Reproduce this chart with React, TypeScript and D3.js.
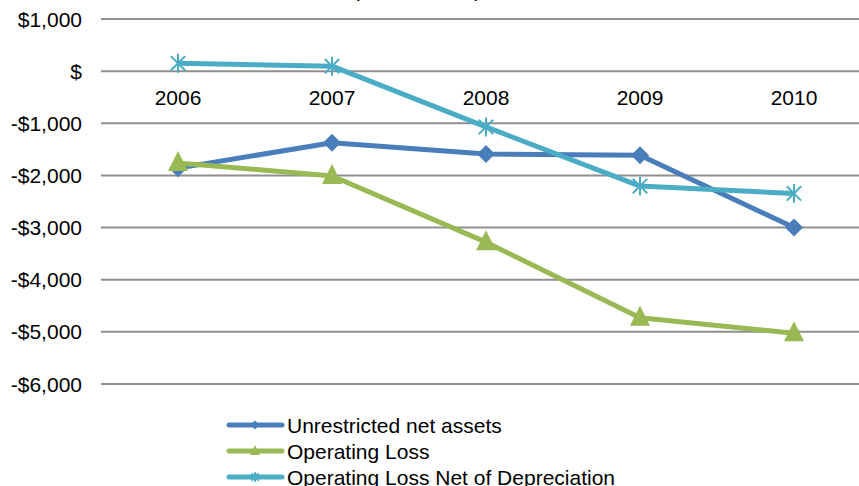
import React from "react";
import * as d3 from "d3";

const years = ["2006", "2007", "2008", "2009", "2010"];
const unrestricted = [-1860, -1375, -1590, -1615, -3000];
const operatingLoss = [-1760, -2010, -3280, -4730, -5025];
const netOfDep = [150, 95, -1070, -2205, -2345];
const yTicks = [1000, 0, -1000, -2000, -3000, -4000, -5000, -6000];
const seriesNames = ["Unrestricted net assets", "Operating Loss", "Operating Loss Net of Depreciation"];
const colors = ["#4A7EBB", "#98B954", "#4BACC6"];

const W = 859, H = 486;
const FONT = "'Liberation Sans', Arial, sans-serif";
const FS = 21;

function fmt(v: number) {
  if (v === 0) return "$";
  const s = d3.format(",")(Math.abs(v));
  return (v < 0 ? "-$" : "$") + s;
}

function Marker({ type, x, y, color, s = 1 }: { type: number; x: number; y: number; color: string; s?: number }) {
  if (type === 0) {
    const r = 9 * s;
    return <path d={`M${x},${y - r}L${x + r},${y}L${x},${y + r}L${x - r},${y}Z`} fill={color} />;
  }
  if (type === 1) {
    const w = 10 * s, h = 20 * s;
    return <path d={`M${x},${y - h * 0.6}L${x + w},${y + h * 0.4}L${x - w},${y + h * 0.4}Z`} fill={color} />;
  }
  const r = 9 * s;
  const d = r * 0.8;
  return (
    <path
      d={`M${x - d},${y - d}L${x + d},${y + d}M${x - d},${y + d}L${x + d},${y - d}M${x},${y - r * 1.05}L${x},${y + r * 1.05}`}
      stroke={color}
      strokeWidth={2}
      fill="none"
    />
  );
}

export default function App() {
  const x = d3.scaleBand<string>().domain(years).range([101, 871]).padding(0);
  const y = d3.scaleLinear().domain([-6000, 1000]).range([384, 19]);
  const cx = (yr: string) => (x(yr) as number) + x.bandwidth() / 2;
  const all = [unrestricted, operatingLoss, netOfDep];
  const line = d3
    .line<number>()
    .x((_, i) => cx(years[i]))
    .y((v) => y(v));

  return (
    <svg width={W} height={H} style={{ position: "absolute", left: 0, top: 0, background: "#fff" }} fontFamily={FONT}>
      <text x={417} y={-3} textAnchor="middle" fontSize={FS} fill="#000">($ thousands)</text>
      {yTicks.map((t) => (
        <g key={t}>
          <line x1={101} x2={871} y1={y(t)} y2={y(t)} stroke="#8f8f8f" strokeWidth={2} />
          <text x={82} y={y(t)} dy="0.36em" textAnchor="end" fontSize={FS} fill="#000">
            {fmt(t)}
          </text>
        </g>
      ))}
      {years.map((yr) => (
        <text key={yr} x={cx(yr)} y={105} textAnchor="middle" fontSize={FS} fill="#000">
          {yr}
        </text>
      ))}
      {all.map((vals, si) => (
        <g key={si}>
          <path d={line(vals) as string} fill="none" stroke={colors[si]} strokeWidth={5} strokeLinejoin="round" />
          {vals.map((v, i) => (
            <Marker key={i} type={si} x={cx(years[i])} y={y(v)} color={colors[si]} />
          ))}
        </g>
      ))}
      {seriesNames.map((n, i) => {
        const ly = 425 + i * 26;
        return (
          <g key={n}>
            <line x1={229} x2={282} y1={ly} y2={ly} stroke={colors[i]} strokeWidth={5} strokeLinecap="round" />
            <Marker type={i} x={255} y={ly} color={colors[i]} s={0.5} />
            <text x={287} y={ly} dy="0.36em" fontSize={FS} fill="#000">
              {n}
            </text>
          </g>
        );
      })}
    </svg>
  );
}
